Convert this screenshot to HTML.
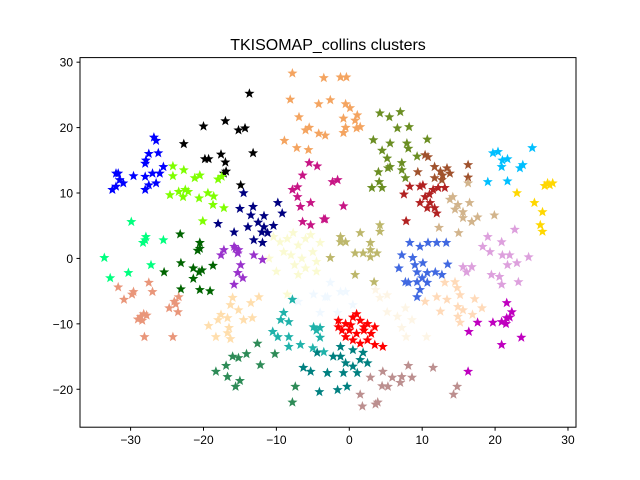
<!DOCTYPE html>
<html><head><meta charset="utf-8"><style>
body{margin:0;background:#fff;}
svg{display:block;font-family:"Liberation Sans",sans-serif;}
</style></head><body>
<svg id="chart" width="640" height="480" viewBox="0 0 640 480">
<rect width="640" height="480" fill="#fff"/>
<text x="328" y="50" text-anchor="middle" font-size="16" fill="#000">TKISOMAP_collins clusters</text>
<g id="marks"></g>
<rect x="80" y="57.6" width="496" height="369.6" fill="none" stroke="#000" stroke-width="1"/>
<g id="axes"></g>
</svg>
<script>
const xTicks=[-30,-20,-10,0,10,20,30];
const yTicks=[-20,-10,0,10,20,30];
const blue=[[-32,13],[-31.5,12],[-32,11],[-31,11.5],[-32.5,10.5],[-31.7,13],[-29.6,12.6],[-26.8,18.5],[-26.5,18],[-26.2,16.1],[-27.5,16],[-27.9,15],[-28,14.5],[-27,13],[-28,12.5],[-27.5,11.2],[-26.5,11.5],[-28,10.5],[-25.5,14],[-26,13]];
const black=[[-13.7,25.2],[-20,20.2],[-17,21],[-15.2,19.6],[-14.3,19.9],[-22.7,17.5],[-19.8,15.2],[-19.3,15.2],[-17.6,15.9],[-13.2,16.1],[-17,14.7],[-17.2,13],[-16.9,13.3],[-14.9,11.2]];
const chartreuse=[[-24.2,14.1],[-24.2,12.6],[-22.7,13.5],[-20.5,12.7],[-21.2,12.3],[-18,12.1],[-23.4,10.2],[-22.1,10.2],[-22.8,9.4],[-24.6,9.7],[-20.6,9.2],[-19.4,10],[-18.6,9.5],[-18.7,8.2],[-17.2,7.7],[-20.1,5.7],[-22.5,10.5],[-17.5,12.5]];
const navy=[[-14.5,10],[-15,7.6],[-13.2,7.9],[-13.5,6.6],[-13.9,4.8],[-11.7,6.5],[-11.7,4.8],[-11.2,3.9],[-9.8,8.5],[-9.2,6.9],[-10.4,5],[-18,5.3],[-15.8,4],[-13.1,2.8],[-11.9,2.4],[-12.5,5.5],[-12,4]];
const springgreen=[[-29.9,5.6],[-27.9,3.3],[-28.3,2.4],[-25.5,2.8],[-33.6,0.1],[-27.2,-1],[-32.8,-3],[-30.3,-2.2],[-28,2.8]];
const darkgreen=[[-23.2,3.7],[-20.5,2.4],[-20.5,1.5],[-20.8,1.2],[-23.1,-0.7],[-25.4,-2.1],[-21.4,-1.5],[-20.6,-2.1],[-21.4,-3.1],[-18.7,-1.1],[-23.1,-4.7],[-20.5,-4.8],[-19.1,-5],[-20.2,-1.8]];
const darksalmon=[[-31.7,-4.4],[-29.6,-5.1],[-30.9,-6.3],[-27.5,-3.7],[-27,-5.1],[-28.6,-8.9],[-28.2,-8.5],[-29,-9.3],[-28.4,-9.5],[-27.8,-8.7],[-24,-6.6],[-24.7,-7.6],[-23.5,-8.2],[-23.4,-5.9],[-23.8,-7],[-28.1,-12],[-24.2,-12],[-29.8,-5.5]];
const darkorchid=[[-17.2,1.3],[-15.8,1.8],[-15.2,1.3],[-15.3,0.8],[-13.1,0.5],[-11.9,-0.2],[-14.9,-1],[-15.3,-2.2],[-14.6,-3],[-15.8,-4],[-17.6,0.5],[-15.6,1.5]];
const lightyellow=[[-10.4,3.3],[-9.5,2.5],[-8.5,3],[-7.7,3.9],[-7,2],[-6,3],[-5.3,3.6],[-4,2.4],[-9,1],[-8,0.5],[-7.5,-1],[-6.5,0],[-5,1],[-4.5,-0.5],[-11,0],[-10,-2],[-7,-2.5],[-4.5,-2],[-8.5,-5.5],[-6,-1.5]];
const aliceblue=[[-2.6,-3.7],[-1.2,-5.1],[-0.5,-5.1],[-1.6,-8.3],[-3,-5.9],[0.5,-7.1],[-4.9,-5.5],[-3.3,-5.9],[-7,-6.6],[-4,-8.3]];
const sandybrown=[[-7.8,28.3],[-3.5,27.6],[-1.2,27.7],[-0.4,27.7],[-8.1,24.3],[-4.2,23.6],[-2.6,24.2],[-0.5,23.6],[0.1,23],[-6.9,21.6],[-0.8,21.4],[0.8,21.1],[-6,19.6],[-4.2,19.1],[-3.3,18.8],[1,19.9],[-8.9,18],[-7.2,16.9],[-5.6,16.6],[1.1,21.9],[1.5,20.1],[-0.5,20],[-0.8,19.2],[-5.5,20]];
const violetred=[[-5.5,14.6],[-4.4,14.1],[-6.4,12.7],[-7.1,10.9],[-7.8,10.5],[-7.1,9.4],[-6.7,7.9],[-5.3,8.5],[-6.4,5.6],[-5.3,5.1],[-3.3,6],[-2.3,11.7],[-1.6,12],[-0.8,8],[-3.5,6]];
const olivedrab=[[4.2,22.2],[5.5,21.6],[7,22.4],[6.6,19.9],[8.2,20.1],[3.3,18.1],[5.6,17.6],[7.9,17.6],[10.7,18.2],[4.5,16.5],[8.1,16.8],[5.2,15.3],[5.3,13.8],[4,13.2],[7.2,14.6],[7.2,13.5],[9.3,15.6],[7.7,12.3],[4.1,11.7],[3.1,10.8],[4.5,10.8],[5.6,14]];
const sienna=[[10.4,15.8],[10.8,15.5],[9.4,13.2],[11.7,14],[13.4,13.8],[12.8,12.7],[13.8,13],[12.7,12],[11.7,12.3],[16.3,14.3],[16.3,12.4],[12.5,13.3]];
const firebrick=[[8.3,11],[9.7,11],[10.1,11.2],[7.5,9.8],[12.2,10.8],[13.1,10.8],[10.4,9.4],[9.7,8.5],[11.1,8.5],[11.7,7.7],[12,6.9],[10.7,7.7],[7.8,5.7],[11.5,10.5],[11,9.8]];
const tan=[[14.2,9.4],[14.9,8.2],[15.6,7.1],[16.5,8.5],[16.3,11.5],[17.6,6.3],[16.8,5.6],[15.6,6.2],[19.9,6.6],[12.3,4.7],[15,3.9],[13.8,9],[14.5,7.5]];
const deepskyblue=[[19.7,16.1],[20.4,16.3],[21,15],[21.7,15.2],[20.9,14],[23.4,13.8],[23.8,14.3],[25.1,16.9],[19,11.7],[21.7,11.8]];
const gold=[[27.2,11.5],[27.9,11.5],[26.8,11.1],[23,10],[25.4,8.5],[26.5,7.1],[26.2,5.1],[26.5,4.1],[27.5,11.2]];
const plum=[[19,3.3],[20.9,2.5],[22.7,4.4],[18.3,1.8],[19.3,1],[21,0.5],[22,0.5],[21.7,-1],[23,-0.7],[24.6,0.2],[15.6,-1.3],[16.8,-1.3],[16.1,-2.1],[19.5,-2.5],[20.6,-2.8],[20.9,-4],[23.2,-3.6]];
const royalblue=[[8.3,2.4],[9.7,1.8],[10.8,2.4],[12,2.4],[13.3,2.4],[7.2,0.5],[8.7,0.1],[10.1,-0.7],[6.8,-1.5],[9.3,-2.1],[10.7,-2.2],[11.8,-2.1],[12.7,-2.5],[13.5,-0.9],[7.7,-3.6],[9.3,-3.6],[10.7,-3.7],[9.7,-4.8],[9.3,-5.9],[8.1,-3.7],[9,-1],[10,-3]];
const peachpuff=[[13.1,-3.7],[14.5,-3.6],[14.8,-4.5],[13.4,-6.3],[15.2,-5.6],[14.9,-7.4],[15.6,-7.9],[17.2,-6.2],[18.2,-7.6],[16.9,-8.6],[14.9,-8.9],[15.2,-9.8],[12,-5.9],[10.4,-6.6],[12.5,-8.1]];
const magenta=[[21.6,-6.8],[22.3,-8.2],[21.6,-9.1],[20.9,-9.7],[19.7,-9.8],[17.6,-9.8],[16.4,-11.2],[20.9,-13.2],[23.6,-12.1],[16.3,-17.3],[21.5,-10],[22,-9]];
const oldlace=[[3.6,-4.8],[5.2,-5.6],[4.2,-6],[5.2,-8.2],[6.6,-8.9],[7.7,-7.6],[7.2,-10.6],[7.8,-12],[10.6,-12],[8.6,-9.4]];
const red=[[-0.5,-10],[0.5,-9],[1.5,-9.5],[2.5,-10],[0,-11],[1,-11.5],[2,-11],[3,-11.5],[-1.5,-10.5],[-0.5,-12],[0.5,-12.5],[1.5,-13],[2.5,-12.5],[3.5,-10.5],[-1,-11],[1,-8.5],[2,-10.5],[0.2,-10.2],[4.6,-13.5],[3.5,-13.2],[-1.5,-9.5]];
const teal=[[-1.2,-13.5],[-1.2,-15],[0.5,-14],[1.5,-15.5],[1.9,-14.4],[2.5,-16],[1.1,-17.5],[-0.8,-17.5],[-0.3,-19.6],[-1.6,-20.1],[-3,-17.5],[-2.2,-15],[-6.3,-16.7],[-5.3,-17.3],[-3,-17.5],[-4.1,-20.4],[-4.4,-14.4],[0.5,-16.5],[-0.5,-16]];
const lightseagreen=[[-9,-8.3],[-8.3,-9.7],[-9.4,-9.4],[-10.5,-11.2],[-9.8,-12],[-8.3,-12],[-8.3,-13.5],[-6.7,-13.2],[-4.9,-10.5],[-4,-10.6],[-4,-12.1],[-5,-13.7],[-3.5,-14.3],[-7.8,-6.3],[-4.5,-11]];
const seagreen=[[-12.6,-13],[-14.1,-14.6],[-15.2,-15.2],[-16,-15],[-16.9,-16.4],[-18.3,-17.3],[-16.7,-18.1],[-15,-18.7],[-15.6,-19.6],[-12.2,-16.3],[-10.2,-14.6],[-7.4,-19.6],[-7.8,-22]];
const navajowhite=[[-16,-6],[-16.3,-7.1],[-13.5,-6.8],[-12.4,-5.9],[-17.6,-8.6],[-16.7,-9.1],[-15.2,-7.9],[-14.5,-9.4],[-13.3,-9.1],[-19.3,-10.3],[-18,-9.4],[-16.5,-10.6],[-16.7,-11.4],[-18.3,-12],[-16.3,-12.3]];
const darkkhaki=[[4.2,5.1],[4.2,4.1],[1.5,3.9],[-1.2,3.3],[-0.5,2.5],[2.9,2.4],[-1.2,2.5],[-2.6,0.1],[0.8,0.8],[1.9,0.8],[2.9,1.3],[3.8,0.8],[2.9,0.2],[0.8,-2.5],[3.4,-3.6]];
const rosybrown=[[8.1,-16.4],[4.6,-17.3],[5.9,-18.2],[5.3,-19.6],[4.5,-19.5],[7.2,-18.1],[8.6,-18.2],[7,-19],[2.9,-18.2],[1.5,-20.8],[1.8,-22.6],[3.6,-22.3],[3.9,-22],[11.5,-16.7],[14.8,-19.6],[14.3,-20.8]];

const clusters=[[aliceblue,'#f0f8ff'],[oldlace,'#fdf5e6'],[lightyellow,'#fafad2'],[blue,'#0000ff'],[black,'#000000'],[chartreuse,'#7fff00'],[navy,'#000080'],[springgreen,'#00ff7f'],[darkgreen,'#006400'],[darksalmon,'#e9967a'],[darkorchid,'#9932cc'],[sandybrown,'#f4a460'],[violetred,'#c71585'],[olivedrab,'#6b8e23'],[sienna,'#a0522d'],[firebrick,'#b22222'],[tan,'#d2b48c'],[deepskyblue,'#00bfff'],[gold,'#ffd700'],[plum,'#dda0dd'],[royalblue,'#4169e1'],[peachpuff,'#ffdab9'],[magenta,'#bf00bf'],[teal,'#008080'],[lightseagreen,'#20b2aa'],[seagreen,'#2e8b57'],[navajowhite,'#ffdead'],[darkkhaki,'#bdb76b'],[rosybrown,'#bc8f8f'],[red,'#ff0000']];

const X0=-36.94,X1=31.1,Y0=-25.8,Y1=30.7;
const PL=80,PR=576,PT=57.6,PB=427.2;
function sx(v){return PL+(v-X0)/(X1-X0)*(PR-PL);}
function sy(v){return PB-(v-Y0)/(Y1-Y0)*(PB-PT);}
const NS='http://www.w3.org/2000/svg';
function starPts(cx,cy,R){const r=R*0.42;let p=[];for(let i=0;i<10;i++){const a=-Math.PI/2+i*Math.PI/5;const rr=i%2?r:R;p.push((cx+rr*Math.cos(a)).toFixed(1)+','+(cy+rr*Math.sin(a)).toFixed(1));}return p.join(' ');}
const marks=document.getElementById('marks');
clusters.forEach(function(c){
  c[0].forEach(function(d){
    const s=document.createElementNS(NS,'polygon');
    s.setAttribute('points',starPts(sx(d[0]),sy(d[1]),5.3));
    s.setAttribute('fill',c[1]);
    
    
    marks.appendChild(s);
  });
});
const axes=document.getElementById('axes');
xTicks.forEach(function(t){
  const x=sx(t);
  const l=document.createElementNS(NS,'line');
  l.setAttribute('x1',x);l.setAttribute('x2',x);l.setAttribute('y1',PB);l.setAttribute('y2',PB+3.5);l.setAttribute('stroke','#000');
  
  
  axes.appendChild(l);
  const tx=document.createElementNS(NS,'text');
  tx.setAttribute('x',x);tx.setAttribute('y',PB+17);tx.setAttribute('text-anchor','middle');tx.setAttribute('font-size','12');
  tx.textContent=t<0?'\u2212'+Math.abs(t):String(t);
  
  
  axes.appendChild(tx);
});
yTicks.forEach(function(t){
  const y=sy(t);
  const l=document.createElementNS(NS,'line');
  l.setAttribute('x1',PL-3.5);l.setAttribute('x2',PL);l.setAttribute('y1',y);l.setAttribute('y2',y);l.setAttribute('stroke','#000');
  
  
  axes.appendChild(l);
  const tx=document.createElementNS(NS,'text');
  tx.setAttribute('x',PL-7);tx.setAttribute('y',y+4.5);tx.setAttribute('text-anchor','end');tx.setAttribute('font-size','12');
  tx.textContent=t<0?'\u2212'+Math.abs(t):String(t);
  
  
  axes.appendChild(tx);
});
</script>
</body></html>
